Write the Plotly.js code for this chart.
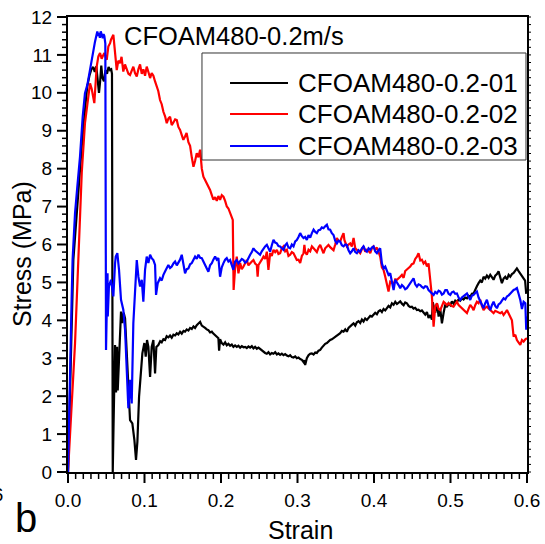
<!DOCTYPE html>
<html>
<head>
<meta charset="utf-8">
<script src="https://cdn.plot.ly/plotly-3.0.1.min.js"></script>
<style>html,body{margin:0;padding:0;background:#fff;}#chart{width:545px;height:544px;}</style>
</head>
<body>
<div id="chart"></div>
<script>
const seriesNames = ["CFOAM480-0.2-01", "CFOAM480-0.2-02", "CFOAM480-0.2-03"];
const chartTitle = "CFOAM480-0.2m/s";
const xTitle = "Strain";
const yTitle = "Stress (MPa)";

const blackStrain = [0,0.0035,0.007,0.0092,0.0122,0.0148,0.018,0.022,0.025,0.028,0.0305,0.033,0.035,0.037,0.039,0.0405,0.042,0.0435,0.045,0.047,0.049,0.051,0.053,0.055,0.0565,0.0575,0.058,0.0585,0.0595,0.0605,0.0615,0.0628,0.0641,0.065,0.0667,0.068,0.0693,0.071,0.0728,0.0746,0.0768,0.0789,0.0811,0.0841,0.0868,0.0889,0.0907,0.0929,0.0955,0.0972,0.0998,0.1016,0.1033,0.1051,0.1073,0.1094,0.1116,0.1138,0.1155,0.1181,0.1205,0.1225,0.1247,0.1269,0.129,0.1312,0.1334,0.1356,0.1378,0.14,0.1422,0.1443,0.1465,0.1487,0.151,0.153,0.1552,0.1574,0.1596,0.1618,0.164,0.1661,0.1683,0.1705,0.1727,0.1749,0.177,0.1792,0.1814,0.1835,0.1857,0.188,0.19,0.1923,0.1945,0.1966,0.1975,0.1988,0.201,0.2032,0.2054,0.2075,0.2097,0.2119,0.2141,0.2162,0.2184,0.2206,0.2228,0.225,0.2272,0.2294,0.2315,0.2337,0.2359,0.2381,0.2403,0.2424,0.2446,0.2468,0.249,0.2511,0.2533,0.2555,0.2577,0.2599,0.262,0.2642,0.2664,0.2686,0.2708,0.273,0.2751,0.2773,0.2795,0.2817,0.2839,0.2861,0.2882,0.2904,0.2926,0.2948,0.297,0.2991,0.3013,0.3035,0.3057,0.3079,0.309,0.31,0.3111,0.3122,0.3144,0.3166,0.3187,0.321,0.3232,0.3253,0.3275,0.3297,0.3318,0.334,0.3362,0.3384,0.3405,0.3427,0.3449,0.3471,0.3493,0.3515,0.3536,0.3558,0.358,0.3602,0.3624,0.3645,0.3667,0.3689,0.371,0.3733,0.3755,0.3776,0.3798,0.382,0.3842,0.3863,0.3885,0.3907,0.3929,0.3951,0.3972,0.3994,0.4016,0.4038,0.406,0.4081,0.4103,0.4125,0.4147,0.4169,0.419,0.4212,0.4234,0.4256,0.4278,0.43,0.4321,0.4343,0.4365,0.4387,0.4408,0.443,0.4452,0.4474,0.4495,0.4517,0.4539,0.4561,0.4582,0.4605,0.4626,0.4648,0.467,0.4692,0.4713,0.4735,0.4757,0.4768,0.4779,0.48,0.4823,0.4845,0.4866,0.4888,0.491,0.4932,0.4953,0.4975,0.4997,0.5018,0.504,0.5062,0.5084,0.5106,0.5127,0.5149,0.5171,0.5193,0.5215,0.5236,0.5258,0.528,0.5302,0.5323,0.5345,0.5367,0.5389,0.541,0.5432,0.5454,0.5476,0.5498,0.552,0.5541,0.5563,0.5585,0.5607,0.5628,0.565,0.5672,0.5694,0.5716,0.5738,0.576,0.5781,0.5803,0.5825,0.5847,0.5868,0.589,0.5912,0.5934,0.5956,0.5975,0.599];
const blackStress = [0,3.0,5.6,6.2,7.0,7.9,8.6,9.5,10.15,10.45,10.62,10.68,10.55,10.7,10.35,10.0,10.3,10.72,10.4,10.3,10.6,10.5,10.68,10.6,10.62,10.5,5.0,0.0,1.2,2.4,3.35,2.1,3.3,2.15,3.1,4.0,4.23,3.93,4.2,4.05,3.2,2.43,1.37,1.28,0.84,0.32,0.8,1.99,2.78,3.13,3.4,3.04,3.48,3.3,2.51,3.3,3.48,2.6,3.3,3.35,3.45,3.42,3.5,3.48,3.58,3.55,3.6,3.54,3.62,3.6,3.66,3.63,3.7,3.65,3.72,3.7,3.76,3.73,3.8,3.77,3.84,3.8,3.87,3.92,3.96,3.86,3.84,3.8,3.76,3.74,3.68,3.7,3.65,3.6,3.58,3.53,3.2,3.5,3.4,3.36,3.42,3.34,3.38,3.33,3.36,3.3,3.34,3.3,3.33,3.28,3.32,3.29,3.3,3.27,3.31,3.28,3.32,3.26,3.3,3.25,3.28,3.24,3.2,3.18,3.14,3.12,3.16,3.1,3.14,3.12,3.16,3.1,3.13,3.09,3.12,3.08,3.11,3.07,3.05,3.08,3.03,3.02,3.05,3.0,3.02,2.98,2.96,2.9,2.95,2.82,2.95,3.0,3.08,3.12,3.13,3.1,3.15,3.14,3.2,3.22,3.28,3.33,3.38,3.4,3.45,3.48,3.5,3.53,3.58,3.6,3.63,3.66,3.72,3.7,3.76,3.7,3.8,3.83,3.88,3.92,3.86,3.95,3.98,3.93,4.02,3.97,4.05,4.01,4.08,4.12,4.1,4.14,4.2,4.16,4.24,4.27,4.22,4.3,4.26,4.32,4.38,4.34,4.45,4.41,4.49,4.43,4.47,4.5,4.44,4.4,4.47,4.45,4.38,4.35,4.36,4.31,4.33,4.27,4.28,4.24,4.26,4.19,4.15,4.22,4.06,4.14,4.02,4.48,4.4,4.2,4.44,4.1,4.3,3.92,4.2,4.42,4.35,4.45,4.4,4.5,4.44,4.52,4.49,4.55,4.52,4.58,4.55,4.6,4.58,4.65,4.62,4.7,4.71,4.82,4.9,4.98,5.05,5.0,5.15,5.1,5.18,5.12,5.2,5.14,5.07,5.18,5.22,5.29,5.15,4.98,5.1,5.15,5.08,5.2,5.15,5.22,5.25,5.3,5.37,5.3,5.24,5.15,5.11,5.05,4.7];

const redStrain = [0,0.0048,0.0092,0.0135,0.016,0.018,0.0222,0.0266,0.0288,0.031,0.033,0.0344,0.0375,0.0397,0.0419,0.044,0.0462,0.0475,0.0506,0.0527,0.055,0.0562,0.0593,0.0615,0.0637,0.0658,0.068,0.07,0.0723,0.0745,0.0768,0.079,0.0811,0.0833,0.0854,0.0876,0.0899,0.092,0.0942,0.0964,0.0985,0.1007,0.1029,0.1051,0.1073,0.1094,0.1116,0.1138,0.116,0.118,0.1203,0.1225,0.1247,0.1269,0.1291,0.1312,0.1334,0.1356,0.1378,0.14,0.1422,0.1443,0.1465,0.1487,0.1508,0.153,0.155,0.1574,0.1596,0.1618,0.164,0.1661,0.1683,0.1705,0.1727,0.1749,0.177,0.1792,0.1814,0.1835,0.1857,0.188,0.19,0.1923,0.1945,0.1966,0.1988,0.201,0.2032,0.2054,0.2076,0.2097,0.2119,0.2138,0.2154,0.2165,0.2184,0.2206,0.2228,0.225,0.2272,0.2294,0.2315,0.2337,0.2359,0.2381,0.2403,0.2424,0.2446,0.2468,0.2479,0.249,0.2511,0.2533,0.2555,0.2577,0.2599,0.262,0.2642,0.2664,0.2686,0.2708,0.273,0.2751,0.2773,0.2795,0.2817,0.2839,0.2861,0.2882,0.2904,0.2926,0.2948,0.297,0.2991,0.3013,0.3035,0.3057,0.3079,0.309,0.3101,0.3122,0.3144,0.3166,0.3188,0.321,0.3232,0.3253,0.3275,0.3297,0.3318,0.334,0.3362,0.3384,0.3405,0.3427,0.3449,0.3471,0.3493,0.3515,0.3536,0.3558,0.358,0.3602,0.3613,0.3624,0.3645,0.3667,0.3689,0.371,0.3733,0.3755,0.3776,0.3798,0.382,0.3842,0.3863,0.3885,0.3907,0.3929,0.3951,0.3972,0.3994,0.4016,0.4038,0.406,0.4081,0.4103,0.4125,0.4147,0.4169,0.419,0.4212,0.4234,0.4256,0.4278,0.43,0.4321,0.4343,0.4365,0.4387,0.4408,0.443,0.4452,0.4474,0.4495,0.4517,0.4539,0.4561,0.4582,0.4605,0.4626,0.4648,0.467,0.4692,0.4713,0.4735,0.4757,0.4779,0.48,0.4823,0.4845,0.4866,0.4888,0.491,0.4932,0.4953,0.4975,0.4997,0.5018,0.504,0.5062,0.5084,0.5106,0.5127,0.5149,0.5171,0.5193,0.5215,0.5236,0.5258,0.528,0.5302,0.5323,0.5345,0.5367,0.5389,0.541,0.5432,0.5454,0.5476,0.5498,0.552,0.5541,0.5563,0.5585,0.5607,0.5628,0.565,0.5672,0.5694,0.5716,0.5738,0.576,0.5781,0.5803,0.5825,0.5847,0.5868,0.589,0.5912,0.5934,0.5956,0.5978,0.6];
const redStress = [0,1.64,3.4,5.6,6.9,7.9,9.2,9.9,10.25,10.1,9.85,9.73,10.69,10.96,11.05,10.9,11.0,11.05,10.87,11.22,11.31,11.4,11.53,11.1,10.6,10.85,10.78,10.95,10.56,10.75,10.62,10.5,10.47,10.6,10.69,10.52,10.43,10.62,10.75,10.5,10.62,10.45,10.69,10.55,10.39,10.52,10.45,10.3,10.17,10.05,9.81,9.7,9.5,9.38,9.2,9.32,9.37,9.15,9.22,9.3,9.28,9.1,9.02,8.9,8.76,8.85,8.94,8.7,8.6,8.3,8.05,8.2,8.41,8.3,8.5,8.0,7.79,7.7,7.62,7.55,7.44,7.3,7.18,7.25,7.15,7.28,7.18,7.3,7.26,7.15,7.0,6.95,6.83,6.75,6.65,4.8,5.37,5.68,5.24,5.51,5.35,5.42,5.5,5.59,5.45,5.51,5.55,5.59,5.5,5.46,5.15,5.46,5.55,5.6,5.68,5.62,5.81,5.33,5.77,5.7,5.86,5.8,5.86,5.75,5.77,5.9,5.95,5.82,5.86,5.7,5.73,5.8,5.77,5.65,5.59,5.6,5.51,5.7,5.77,5.99,5.8,5.73,5.86,5.82,5.95,5.9,5.86,5.8,5.92,5.99,5.88,5.77,5.9,5.95,5.99,5.93,5.9,5.85,6.0,6.17,6.1,6.08,6.2,6.3,6.12,6.05,5.95,6.0,6.03,5.95,6.17,5.9,5.86,5.8,5.77,5.88,5.95,5.81,5.86,5.83,5.77,5.9,5.95,5.86,5.92,5.8,5.68,5.4,5.33,5.15,4.98,4.76,5.02,5.0,4.95,5.08,5.07,5.1,5.15,5.2,5.12,5.3,5.33,5.38,5.42,5.48,5.5,5.62,5.68,5.77,5.58,5.6,5.5,5.55,5.42,5.5,5.07,4.63,3.83,4.36,4.45,4.3,4.27,4.4,4.49,4.45,4.4,4.45,4.41,4.38,4.36,4.42,4.49,4.4,4.36,4.3,4.27,4.22,4.19,4.3,4.41,4.35,4.27,4.4,4.49,4.45,4.54,4.38,4.27,4.33,4.36,4.31,4.27,4.22,4.19,4.25,4.23,4.2,4.19,4.22,4.14,4.2,4.27,4.18,4.1,4.0,3.57,3.62,3.48,3.4,3.35,3.48,3.44,3.5,3.53];

const blueStrain = [0,0.0026,0.0048,0.006,0.0092,0.0122,0.0157,0.0192,0.0222,0.0253,0.0288,0.0323,0.0353,0.0383,0.0395,0.0405,0.0417,0.0428,0.0441,0.0454,0.0465,0.0475,0.0488,0.0497,0.0508,0.0517,0.052,0.0535,0.0562,0.0593,0.0615,0.0624,0.0645,0.0667,0.0693,0.0723,0.0746,0.0768,0.0789,0.08,0.0811,0.0822,0.0833,0.0854,0.0876,0.0899,0.092,0.0942,0.0964,0.0985,0.1007,0.1029,0.1051,0.1073,0.1094,0.1116,0.1138,0.1151,0.1173,0.1203,0.1225,0.1247,0.1278,0.1312,0.1334,0.1356,0.1378,0.14,0.1422,0.1443,0.1465,0.1487,0.151,0.153,0.1552,0.1574,0.1596,0.1618,0.164,0.1661,0.1683,0.1705,0.1727,0.1749,0.177,0.1792,0.1814,0.1835,0.1857,0.188,0.19,0.1923,0.1945,0.1966,0.1988,0.201,0.2032,0.2054,0.2075,0.2097,0.2119,0.2141,0.2162,0.2184,0.2206,0.2228,0.225,0.2272,0.2294,0.2315,0.2337,0.2359,0.2381,0.2403,0.2424,0.2446,0.2468,0.249,0.2511,0.2533,0.2555,0.2577,0.2599,0.262,0.2642,0.2664,0.2686,0.2708,0.273,0.2751,0.2773,0.2795,0.2817,0.2839,0.2861,0.2882,0.2904,0.2926,0.2948,0.297,0.2991,0.3013,0.3035,0.3057,0.3079,0.31,0.3122,0.3144,0.3166,0.3188,0.321,0.3232,0.3253,0.3275,0.3297,0.3318,0.334,0.3362,0.3384,0.3405,0.3427,0.3449,0.3471,0.3493,0.3515,0.3536,0.3558,0.358,0.3602,0.3624,0.3645,0.3667,0.3689,0.371,0.3733,0.3755,0.3776,0.3798,0.382,0.3842,0.3863,0.3885,0.3907,0.3929,0.3951,0.3972,0.3994,0.4016,0.4038,0.406,0.4081,0.4103,0.4125,0.4147,0.4169,0.419,0.4212,0.4234,0.4256,0.4278,0.43,0.4321,0.4343,0.4365,0.4387,0.4408,0.443,0.4452,0.4474,0.4495,0.4517,0.4539,0.4561,0.4582,0.4605,0.4626,0.4648,0.467,0.4692,0.4713,0.4735,0.4757,0.4779,0.48,0.4823,0.4845,0.4866,0.4888,0.491,0.4932,0.4953,0.4975,0.4997,0.5018,0.504,0.5062,0.5084,0.5106,0.5127,0.5149,0.5171,0.5193,0.5215,0.5236,0.5258,0.528,0.5302,0.5323,0.5345,0.5367,0.5389,0.541,0.5432,0.5454,0.5476,0.5498,0.552,0.5541,0.5563,0.5585,0.5607,0.5628,0.565,0.5672,0.5694,0.5716,0.5738,0.576,0.5781,0.5803,0.5825,0.5847,0.5868,0.589,0.5912,0.5934,0.5956,0.5978,0.599,0.6];
const blueStress = [0,2.08,4.6,5.6,6.83,7.53,8.32,9.37,9.99,10.21,10.61,11.05,11.35,11.62,11.5,11.58,11.45,11.62,11.5,11.44,11.55,11.5,11.3,3.22,4.4,5.24,4.1,4.9,5.07,4.63,5.5,5.68,5.77,5.33,4.54,4.28,3.75,2.78,1.68,2.0,2.43,2.1,1.81,3.92,4.8,5.59,5.15,4.89,5.07,4.49,5.33,5.68,5.51,5.73,5.64,5.59,5.46,4.67,4.98,5.11,5.05,5.2,5.33,5.46,5.38,5.42,5.5,5.55,5.45,5.51,5.6,5.73,5.4,5.24,5.35,5.37,5.48,5.51,5.6,5.68,5.62,5.73,5.65,5.64,5.55,5.46,5.4,5.28,5.45,5.51,5.6,5.68,5.6,5.64,5.15,5.4,5.51,5.6,5.64,5.55,5.59,5.45,5.33,5.55,5.59,5.5,5.55,5.62,5.59,5.52,5.55,5.65,5.73,5.8,5.9,5.84,5.81,5.76,5.73,5.82,5.9,5.95,5.99,5.88,5.81,5.98,6.12,6.05,6.03,5.96,5.95,5.9,5.86,5.98,6.03,5.92,5.9,6.0,5.95,6.08,6.12,6.2,6.3,6.22,6.17,6.2,6.12,6.25,6.18,6.3,6.39,6.33,6.3,6.38,6.39,6.45,6.43,6.48,6.52,6.4,6.39,6.3,6.25,6.1,6.03,6.1,6.08,5.98,5.95,6.0,5.99,5.85,5.77,5.82,5.9,5.8,5.77,5.85,5.81,5.9,5.95,5.85,5.81,5.9,5.86,5.92,5.95,5.82,5.77,5.85,5.9,5.5,5.37,5.42,5.33,5.2,5.24,5.0,4.8,5.07,4.98,4.93,4.85,4.93,4.89,4.82,4.85,4.92,4.98,5.05,5.11,4.95,4.89,4.95,4.93,4.88,4.85,4.9,4.89,4.8,4.76,4.7,4.67,4.75,4.71,4.78,4.76,4.68,4.71,4.8,4.8,4.7,4.67,4.74,4.76,4.7,4.71,4.6,4.54,4.6,4.63,4.68,4.71,4.62,4.54,4.65,4.67,4.72,4.76,4.6,4.49,4.4,4.32,4.45,4.54,4.38,4.27,4.4,4.49,4.38,4.32,4.42,4.45,4.52,4.58,4.55,4.63,4.66,4.71,4.76,4.8,4.82,4.85,4.7,4.54,4.3,4.49,4.45,3.75,4.1];

const FONT = "Liberation Sans, Arial, Helvetica, sans-serif";
const colors = ["#000000", "#ff0000", "#0000ff"];
const LW = 2.2;
const PLOT_W = 459, PLOT_H = 455;
const xRange = [0, 0.6], yRange = [0, 12];

const traces = [
  {x: blackStrain, y: blackStress, name: seriesNames[0], mode: "lines", line: {color: colors[0], width: LW}},
  {x: redStrain, y: redStress, name: seriesNames[1], mode: "lines", line: {color: colors[1], width: LW}},
  {x: blueStrain, y: blueStress, name: seriesNames[2], mode: "lines", line: {color: colors[2], width: LW}}
];

// manual legend (paper coords)
const legY = [0.855, 0.7868, 0.7165];
const shapes = [
  {type: "rect", xref: "paper", yref: "paper", x0: 0.2919, x1: 0.9978, y0: 0.6857, y1: 0.9209, line: {color: "#333", width: 1}}
];
const annotations = [
  {xref: "paper", yref: "paper", x: 0.1176, y: 0.9593, xanchor: "left", yanchor: "middle", text: chartTitle, showarrow: false, font: {family: FONT, size: 25.5, color: "#000"}},
  {xref: "paper", yref: "paper", x: 0.5065, y: -0.1275, xanchor: "center", yanchor: "middle", text: xTitle, showarrow: false, font: {family: FONT, size: 25, color: "#000"}},
  {xref: "paper", yref: "paper", x: -0.1002, y: 0.479, xanchor: "center", yanchor: "middle", textangle: -90, text: yTitle, showarrow: false, font: {family: FONT, size: 25, color: "#000"}},
  {xref: "paper", yref: "paper", x: -0.0915, y: -0.101, xanchor: "center", yanchor: "middle", text: "b", showarrow: false, font: {family: FONT, size: 40, color: "#000"}},
  {xref: "paper", yref: "paper", x: -0.1373, y: -0.0505, xanchor: "right", yanchor: "middle", text: "0.6", showarrow: false, font: {family: FONT, size: 19, color: "#000"}}
];
seriesNames.forEach((n, i) => {
  shapes.push({type: "line", xref: "paper", yref: "paper", x0: 0.353, x1: 0.4793, y0: legY[i], y1: legY[i], line: {color: colors[i], width: LW}});
  annotations.push({xref: "paper", yref: "paper", x: 0.4967, y: legY[i], xanchor: "left", yanchor: "middle", text: n, showarrow: false, font: {family: FONT, size: 26, color: "#000"}});
});

// tick marks as paper-referenced shapes (not clipped): bottom 0.01/0.1, left 0.2/1, right 0.2 small
for (let i = 0; i <= 60; i++) {
  const v = i / 100;
  const px = (v - xRange[0]) / (xRange[1] - xRange[0]);
  const major = (i % 10 === 0);
  const len = major ? 10 : 6;
  shapes.push({type: "line", xref: "paper", yref: "paper", x0: px, x1: px, y0: -1 / PLOT_H, y1: -(1 + len) / PLOT_H, line: {color: "#000", width: major ? 2 : 1.5}});
}
for (let i = 0; i <= 60; i++) {
  const v = i / 5;
  const py = (v - yRange[0]) / (yRange[1] - yRange[0]);
  const major = (i % 5 === 0);
  const len = major ? 10 : 5;
  shapes.push({type: "line", xref: "paper", yref: "paper", x0: -1 / PLOT_W, x1: -(1 + len) / PLOT_W, y0: py, y1: py, line: {color: "#000", width: major ? 2 : 1.5}});
  shapes.push({type: "line", xref: "paper", yref: "paper", x0: 1 + 1 / PLOT_W, x1: 1 + 4 / PLOT_W, y0: py, y1: py, line: {color: "#000", width: 1}});
}

const layout = {
  width: 545, height: 544,
  margin: {l: 68, r: 18, t: 17, b: 72, pad: 0},
  paper_bgcolor: "#fff", plot_bgcolor: "#fff",
  font: {family: FONT, size: 19, color: "#000"},
  showlegend: false,
  xaxis: {
    range: xRange, dtick: 0.1, tick0: 0, tickformat: ".1f",
    showgrid: false, zeroline: false,
    showline: true, linewidth: 2, linecolor: "#000", mirror: true,
    ticks: "outside", ticklen: 10, tickwidth: 2, tickcolor: "rgba(0,0,0,0)",
    tickfont: {family: FONT, size: 19, color: "#000"},
    automargin: false
  },
  yaxis: {
    range: yRange, dtick: 1, tick0: 0,
    showgrid: false, zeroline: false,
    showline: true, linewidth: 2, linecolor: "#000", mirror: true,
    ticks: "outside", ticklen: 10, tickwidth: 2, tickcolor: "rgba(0,0,0,0)",
    tickfont: {family: FONT, size: 19, color: "#000"},
    automargin: false
  },
  shapes: shapes,
  annotations: annotations
};

Plotly.newPlot("chart", traces, layout, {displayModeBar: false});
</script>
</body>
</html>
